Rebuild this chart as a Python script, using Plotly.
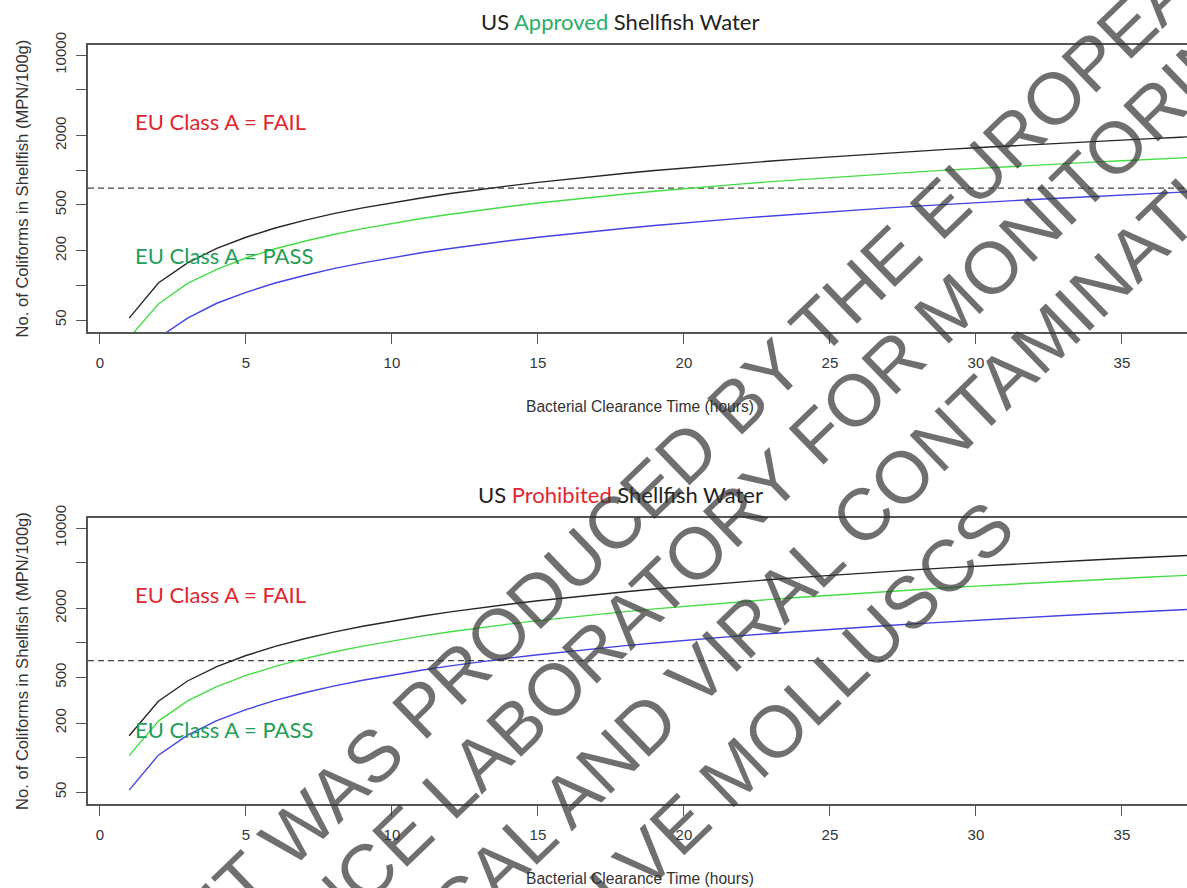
import math
import plotly.graph_objects as go

# Clearance time (hours)
hours = list(range(1, 39))

# Coliforms in shellfish (MPN/100g) - US Approved water
approved_black = [52, 105, 157, 210, 262, 315, 367, 420, 471, 523, 575, 628, 680, 732, 785,
                  837, 889, 942, 994, 1046, 1099, 1151, 1203, 1256, 1308, 1360, 1413, 1465,
                  1517, 1570, 1622, 1674, 1727, 1779, 1831, 1884, 1936, 1988]
approved_green = [35, 69, 104, 138, 173, 208, 242, 277, 311, 346, 381, 415, 450, 484, 519,
                  554, 588, 623, 657, 692, 727, 761, 796, 830, 865, 900, 934, 969, 1003,
                  1038, 1073, 1107, 1142, 1176, 1211, 1246, 1280, 1315]
approved_blue = [17, 35, 52, 70, 87, 105, 122, 140, 157, 174, 192, 209, 227, 244, 262, 279,
                 297, 314, 331, 349, 366, 384, 401, 419, 436, 453, 471, 488, 506, 523, 541,
                 558, 575, 593, 610, 628, 645, 663]

# Coliforms in shellfish (MPN/100g) - US Prohibited water
prohibited_black = [155, 310, 465, 620, 775, 930, 1085, 1240, 1395, 1550, 1705, 1860, 2015,
                    2170, 2325, 2480, 2635, 2790, 2945, 3100, 3255, 3410, 3565, 3720, 3875,
                    4030, 4185, 4340, 4495, 4650, 4805, 4960, 5115, 5270, 5425, 5580, 5735, 5890]
prohibited_green = [104, 208, 312, 416, 520, 624, 728, 832, 936, 1040, 1144, 1248, 1352, 1456,
                    1560, 1664, 1768, 1872, 1976, 2080, 2184, 2288, 2392, 2496, 2600, 2704,
                    2808, 2912, 3016, 3120, 3224, 3328, 3432, 3536, 3640, 3744, 3848, 3952]
prohibited_blue = [52, 105, 157, 210, 262, 315, 367, 420, 472, 525, 577, 630, 682, 735, 787,
                   840, 892, 945, 997, 1050, 1102, 1155, 1207, 1260, 1312, 1365, 1417, 1470,
                   1522, 1575, 1627, 1680, 1732, 1785, 1837, 1890, 1942, 1995]

EU_LIMIT = 700

y_tickvals = [50, 100, 200, 500, 1000, 2000, 5000, 10000]
y_ticktext = ["50", "", "200", "500", "", "2000", "", "10000"]
x_tickvals = [0, 5, 10, 15, 20, 25, 30, 35]

watermark_lines = [
    "THIS DOCUMENT WAS PRODUCED BY THE EUROPEAN",
    "UNION REFERENCE LABORATORY FOR MONITORING",
    "BACTERIOLOGICAL AND VIRAL CONTAMINATION",
    "OF BIVALVE MOLLUSCS",
]

# ---- layout geometry (pixels) ----
W, H = 1187, 888
ML = 88
X_RANGE = [-0.41, 37.23]
Y_RANGE = [math.log10(39.4), math.log10(12240)]
PANELS = [
    dict(top=45, bottom=332, title=("Approved", "#2aad66")),
    dict(top=518, bottom=804, title=("Prohibited", "#e2262e")),
]

def fx(px):
    return (px - ML) / (W - ML)

def fy(py):
    return 1 - py / H

AX_COLOR = "#555555"
TXT_COLOR = "#333333"
TICK_FONT = dict(family="Liberation Sans, Arial", size=15, color=TXT_COLOR)
LABEL_FONT = dict(family="Lato, Calibri, sans-serif", size=22)

fig = go.Figure()

series = [
    (approved_black, approved_green, approved_blue),
    (prohibited_black, prohibited_green, prohibited_blue),
]
colors = ["#262626", "#45dd45", "#4242e6"]

for i, ys in enumerate(series):
    xa = "x" if i == 0 else "x2"
    ya = "y" if i == 0 else "y2"
    fig.add_trace(go.Scatter(x=X_RANGE, y=[EU_LIMIT, EU_LIMIT], mode="lines",
                             line=dict(color="#444444", width=1.4, dash="6px,4px"),
                             xaxis=xa, yaxis=ya, hoverinfo="skip"))
    for vals, c in zip(ys, colors):
        fig.add_trace(go.Scatter(x=hours, y=vals, mode="lines",
                                 line=dict(color=c, width=1.4),
                                 xaxis=xa, yaxis=ya))

axis_common = dict(showgrid=False, zeroline=False, showline=True, linecolor=AX_COLOR,
                   linewidth=1.5, ticks="outside", ticklen=10, tickwidth=1.3,
                   tickcolor=AX_COLOR, tickfont=TICK_FONT, automargin=False)

layout = dict(
    width=W, height=H, showlegend=False,
    margin=dict(l=ML, r=0, t=0, b=0, pad=0, autoexpand=False),
    paper_bgcolor="white", plot_bgcolor="white",
)

annotations = []
for i, p in enumerate(PANELS):
    sfx = "" if i == 0 else "2"
    layout["xaxis" + sfx] = dict(axis_common, domain=[0, 1], range=X_RANGE,
                                 anchor="y" + sfx, tickvals=x_tickvals, mirror=True,
                                 ticklabelstandoff=6)
    layout["yaxis" + sfx] = dict(axis_common, domain=[fy(p["bottom"]), fy(p["top"])],
                                 type="log", range=Y_RANGE, anchor="x" + sfx,
                                 tickvals=y_tickvals, ticktext=y_ticktext,
                                 tickangle=-90, ticklabelstandoff=4)
    word, wcol = p["title"]
    annotations.append(dict(
        text=f"US <span style='color:{wcol}'>{word}</span> Shellfish Water",
        xref="paper", yref="paper", x=fx(620), y=fy(p["top"] - 24),
        xanchor="center", yanchor="middle", showarrow=False,
        font=dict(LABEL_FONT, color="#222222")))
    annotations.append(dict(
        text="EU Class A = FAIL", xref="paper", yref="paper",
        x=fx(133), y=fy(p["top"] + 76), xanchor="left", yanchor="middle",
        showarrow=False, font=dict(LABEL_FONT, color="#e2262e")))
    annotations.append(dict(
        text="EU Class A = PASS", xref="paper", yref="paper",
        x=fx(133), y=fy(p["top"] + 211), xanchor="left", yanchor="middle",
        showarrow=False, font=dict(LABEL_FONT, color="#1f9e58")))
    annotations.append(dict(
        text="Bacterial Clearance Time (hours)", xref="paper", yref="paper",
        x=fx(640), y=fy(p["bottom"] + 74), xanchor="center", yanchor="middle",
        showarrow=False, font=dict(TICK_FONT, size=15.6)))
    annotations.append(dict(
        text="No. of Coliforms in Shellfish (MPN/100g)", xref="paper", yref="paper",
        x=fx(22), y=fy((p["top"] + p["bottom"]) / 2 + 0), xanchor="center",
        yanchor="middle", textangle=-90, showarrow=False,
        font=dict(TICK_FONT, size=16.6)))

# diagonal watermark
wm_centers = [(519, 614), (589, 655), (662, 708), (699, 805)]
for line, (cx, cy) in zip(watermark_lines, wm_centers):
    annotations.append(dict(
        text=line, xref="paper", yref="paper", x=fx(cx), y=fy(cy),
        xanchor="center", yanchor="middle", textangle=-44, showarrow=False,
        font=dict(family="Liberation Sans, Arial", size=73,
                  color="rgba(50,50,50,0.70)")))

layout["annotations"] = annotations
fig.update_layout(**layout)
fig.write_html("out.html")
